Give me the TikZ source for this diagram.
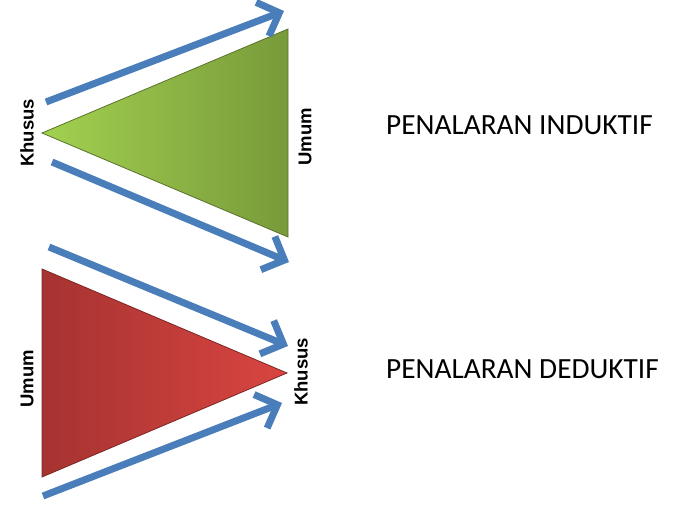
\documentclass[tikz,border=0pt]{standalone}
\usepackage{fontspec}
\setmainfont{Carlito}
\newfontfamily\lblfont{Liberation Sans}
\usetikzlibrary{arrows.meta}
\definecolor{arrowblue}{HTML}{4A7EBB}
\definecolor{greenL}{HTML}{A2D150}
\definecolor{greenR}{HTML}{789A3A}
\definecolor{redL}{HTML}{A53331}
\definecolor{redR}{HTML}{DA4541}
\begin{document}
\begin{tikzpicture}[x=1pt,y=-1pt,
  flow/.style={draw=arrowblue,line width=7pt,
    -{Straight Barb[length=18pt,width=36pt,line width=7pt]}},
  lbl/.style={font=\lblfont\bfseries\fontsize{18.5}{18.5}\selectfont,rotate=90,inner sep=0pt},
  title/.style={font=\fontsize{29.3}{29.3}\selectfont,anchor=west,inner sep=0pt},
  tri/.style={line width=0.8pt}]
\useasboundingbox (0,0) rectangle (674,508);
% green triangle
\coordinate (ga) at (42,133);
\coordinate (gt) at (288,29);
\coordinate (gb) at (288,237);
\shade[left color=greenL,right color=greenR] (ga) -- (gt) -- (gb) -- cycle;
\draw[tri,draw=greenR!75!black] (ga) -- (gt) -- (gb) -- cycle;
% red triangle
\coordinate (rt) at (42,269);
\coordinate (rb) at (42,477);
\coordinate (ra) at (287,373);
\shade[left color=redL,right color=redR] (rt) -- (ra) -- (rb) -- cycle;
\draw[tri,draw=redL!75!black] (rt) -- (ra) -- (rb) -- cycle;
% arrow endpoints
\coordinate (a1s) at (46,102);
\coordinate (a1e) at (284,11);
\coordinate (a2s) at (52,162);
\coordinate (a2e) at (289,262);
\coordinate (a3s) at (49,247);
\coordinate (a3e) at (288,346);
\coordinate (a4s) at (43,496);
\coordinate (a4e) at (282,403);
\draw[flow] (a1s) -- (a1e);
\draw[flow] (a2s) -- (a2e);
\draw[flow] (a3s) -- (a3e);
\draw[flow] (a4s) -- (a4e);
% labels
\node[lbl] (k1) at (27,133) {Khusus};
\node[lbl] (u1) at (305,137) {Umum};
\node[lbl] (u2) at (27,379) {Umum};
\node[lbl] (k2) at (301,372) {Khusus};
\node[title] (t1) at (386,125) {PENALARAN INDUKTIF};
\node[title] (t2) at (386,369) {PENALARAN DEDUKTIF};
\end{tikzpicture}
\end{document}
